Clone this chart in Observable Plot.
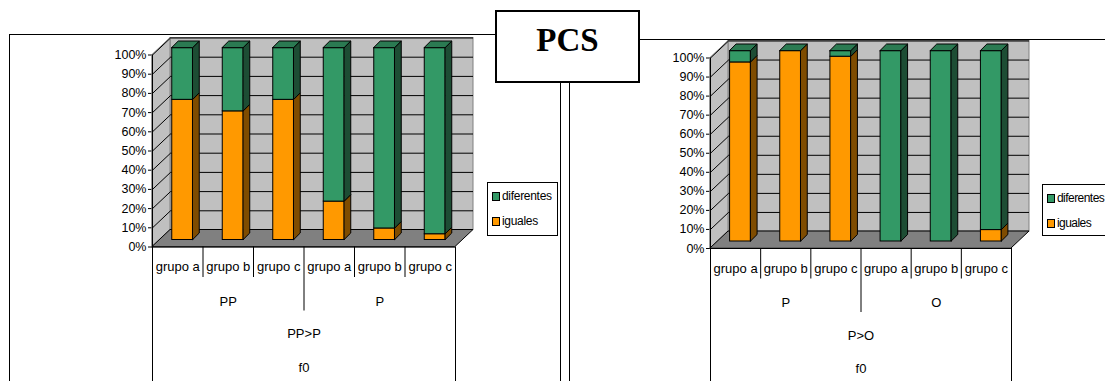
<!DOCTYPE html>
<html><head><meta charset="utf-8">
<script src="https://cdn.jsdelivr.net/npm/d3@7"></script>
<script src="https://cdn.jsdelivr.net/npm/@observablehq/plot@0.6"></script>
<style>
body{margin:0;background:#fff;}
#page{position:relative;width:1105px;height:381px;overflow:hidden;background:#fff;font-family:"Liberation Sans",Arial,sans-serif;}
.frame{position:absolute;border:1px solid #000;box-sizing:border-box;}
.chart{position:absolute;top:0;}
.chart svg{display:block;}
.legend{position:absolute;border:1px solid #000;background:#fff;box-sizing:border-box;font-size:12px;color:#000;letter-spacing:-0.3px;}
.legend .item{position:absolute;left:0;height:14px;line-height:14px;white-space:nowrap;}
.legend .sw{position:absolute;left:4px;top:3px;width:6px;height:7px;border:1px solid #000;}
.legend .lt{position:absolute;left:14px;top:0;}
#lg2{letter-spacing:-0.55px;}
#pcs{position:absolute;left:495px;top:10px;width:145px;height:73px;border:2px solid #000;box-sizing:border-box;background:#fff;}
#pcs span{position:absolute;left:0;right:0;top:12px;text-align:center;font:bold 33px/33px "Liberation Serif","Times New Roman",serif;}
</style></head>
<body>
<div id="page">
  <div class="frame" style="left:9px;top:34px;width:552px;height:400px"></div>
  <div class="frame" style="left:569px;top:39px;width:600px;height:400px"></div>
  <div class="chart" id="c1" style="left:0px"></div>
  <div class="chart" id="c2" style="left:565px"></div>
  <div id="pcs"><span>PCS</span></div>
  <div class="legend" id="lg1" style="left:487px;top:182px;width:71px;height:54px"></div>
  <div class="legend" id="lg2" style="left:1042px;top:184px;width:72px;height:52px"></div>
</div>
<script>
// ---- data ----
const groups = ["grupo a", "grupo b", "grupo c", "grupo a", "grupo b", "grupo c"];
const seriesNames = ["diferentes", "iguales"];
const seriesColors = {diferentes: "#339966", iguales: "#FF9900"};
const yTicks = [0, 10, 20, 30, 40, 50, 60, 70, 80, 90, 100];

const leftIguales = [73, 67, 73, 20, 6, 3];
const leftDiferentes = [27, 33, 27, 80, 94, 97];
const leftLevel2 = ["PP", "P"];
const leftLevel3 = ["PP>P"];
const leftLevel4 = ["f0"];

const rightIguales = [94, 100, 97, 0, 0, 6];
const rightDiferentes = [6, 0, 3, 100, 100, 94];
const rightLevel2 = ["P", "O"];
const rightLevel3 = ["P>O"];
const rightLevel4 = ["f0"];

const FONT = "'Liberation Sans', Arial, sans-serif";

function buildChart(cfg) {
  const H = 381;
  const {width, left, right, y0, y100, iguales, diferentes, level2, level3, level4} = cfg;
  const n = groups.length;
  const ppuX = (right - left) / n, ppuY = (y0 - y100) / 100;
  const ux = p => p / ppuX, uy = p => p / ppuY;
  const BACK_DX = 18, BACK_DY = 17;
  const BAR_DX = 5, BAR_DY = 7, BAR_W = 21, BAR_D = 6.5;
  const hw = ux(BAR_W / 2), sx = ux(BAR_D), sy = uy(BAR_D);
  const bdx = ux(BACK_DX), bdy = uy(BACK_DY);

  const bars = groups.map((g, i) => ({i, g, c: i + 0.5, ig: iguales[i], di: diferentes[i]}));
  const segI = bars.filter(b => b.ig > 0).map(b => ({c: b.c, y1: 0, y2: b.ig, id: "i" + b.i}));
  const segD = bars.filter(b => b.di > 0).map(b => ({c: b.c, y1: b.ig, y2: b.ig + b.di, id: "d" + b.i}));
  const side = segs => segs.flatMap(s => [
    {id: s.id, x: s.c + hw, y1: s.y1, y2: s.y2},
    {id: s.id, x: s.c + hw + sx, y1: s.y1 + sy, y2: s.y2 + sy}
  ]);
  const tops = bars.flatMap(b => {
    const t = b.ig + b.di;
    return [
      {id: b.i, y: t, x1: b.c - hw, x2: b.c + hw},
      {id: b.i, y: t + sy, x1: b.c - hw + sx, x2: b.c + hw + sx}
    ];
  });
  const sideWall = [
    {x: 0, y1: 0, y2: 100},
    {x: bdx, y1: bdy, y2: 100 + bdy}
  ];
  const floor = [
    {y: 0, x1: 0, x2: n},
    {y: bdy, x1: bdx, x2: n + bdx}
  ];
  const boundaries = d3.range(1, n);
  const shortSeps = boundaries.filter(b => b % 3 !== 0);
  const longSeps = boundaries.filter(b => b % 3 === 0);
  const lv2 = level2.map((t, k) => ({t, x: k * 3 + 1.5}));
  const bottom = -uy(H - y0);

  const barFront = (segs, fill) => Plot.rect(segs, {
    x1: d => d.c - hw, x2: d => d.c + hw, y1: "y1", y2: "y2",
    fill, stroke: "#000", strokeWidth: 1, dx: BAR_DX, dy: -BAR_DY
  });
  const barSide = (segs, fill) => Plot.areaY(side(segs), {
    x: "x", y1: "y1", y2: "y2", z: "id", fill, stroke: "#000", strokeWidth: 1, dx: BAR_DX, dy: -BAR_DY
  });

  return Plot.plot({
    width, height: H,
    marginLeft: left, marginRight: width - right, marginTop: y100, marginBottom: H - y0,
    style: {background: "transparent", fontFamily: FONT, fontSize: "12.5px", color: "#000", overflow: "visible"},
    x: {domain: [0, n], axis: null},
    y: {domain: [0, 100], ticks: 10, tickFormat: d => d + "%", tickSize: 4, tickPadding: 2, label: null},
    marks: [
      // back wall
      Plot.rect([0], {x1: () => 0, x2: () => n, y1: () => 0, y2: () => 100, fill: "#C0C0C0", stroke: "#808080", dx: BACK_DX, dy: -BACK_DY}),
      Plot.ruleY(yTicks.slice(1), {x1: () => 0, x2: () => n, y: d => d, stroke: "#000", strokeWidth: 1, dx: BACK_DX, dy: -BACK_DY}),
      // side wall
      Plot.areaY(sideWall, {x: "x", y1: "y1", y2: "y2", fill: "#C0C0C0", stroke: "#808080"}),
      Plot.link(yTicks, {x1: () => 0, y1: d => d, x2: () => bdx, y2: d => d + bdy, stroke: "#000", strokeWidth: 1}),
      // floor
      Plot.areaX(floor, {y: "y", x1: "x1", x2: "x2", fill: "#808080", stroke: "#000", strokeWidth: 1}),
      // axis lines
      Plot.ruleX([0], {y1: () => 0, y2: () => 100, stroke: "#000"}),
      Plot.ruleY([0], {x1: () => 0, x2: () => n, stroke: "#000"}),
      // bars
      barFront(segI, "#FF9900"),
      barFront(segD, "#339966"),
      barSide(segI, "#7F4C00"),
      barSide(segD, "#1D4D34"),
      Plot.areaX(tops, {y: "y", x1: "x1", x2: "x2", z: "id", fill: "#2B7A52", stroke: "#000", strokeWidth: 1, dx: BAR_DX, dy: -BAR_DY}),
      // category axis
      Plot.ruleX([0, n], {y1: () => 0, y2: () => bottom, stroke: "#000"}),
      Plot.ruleX(shortSeps, {y1: () => 0, y2: () => -uy(30.5), stroke: "#000"}),
      Plot.ruleX(longSeps, {y1: () => 0, y2: () => -uy(64), stroke: "#000"}),
      Plot.text(groups, {x: (d, i) => i + 0.5, y: () => 0, dy: 20, text: d => d, fontSize: 13, fill: "#000"}),
      Plot.text(lv2, {x: "x", y: () => 0, dy: 54.5, text: "t", fontSize: 13, fill: "#000"}),
      Plot.text(level3, {x: () => n / 2, y: () => 0, dy: 87, text: d => d, fontSize: 13, fill: "#000"}),
      Plot.text(level4, {x: () => n / 2, y: () => 0, dy: 120.5, text: d => d, fontSize: 13, fill: "#000"})
    ]
  });
}

document.getElementById("c1").appendChild(buildChart({
  width: 565, left: 152, right: 455, y0: 246.5, y100: 54.5,
  iguales: leftIguales, diferentes: leftDiferentes,
  level2: leftLevel2, level3: leftLevel3, level4: leftLevel4
}));
document.getElementById("c2").appendChild(buildChart({
  width: 540, left: 145, right: 446, y0: 248, y100: 57.5,
  iguales: rightIguales, diferentes: rightDiferentes,
  level2: rightLevel2, level3: rightLevel3, level4: rightLevel4
}));

function buildLegend(id, offsets) {
  const el = document.getElementById(id);
  seriesNames.forEach((s, k) => {
    const it = document.createElement("div");
    it.className = "item";
    it.style.top = offsets[k] + "px";
    it.innerHTML = '<span class="sw" style="background:' + seriesColors[s] + '"></span><span class="lt">' + s + '</span>';
    el.appendChild(it);
  });
}
buildLegend("lg1", [5.5, 31]);
buildLegend("lg2", [5.5, 31]);
</script>
</body></html>
